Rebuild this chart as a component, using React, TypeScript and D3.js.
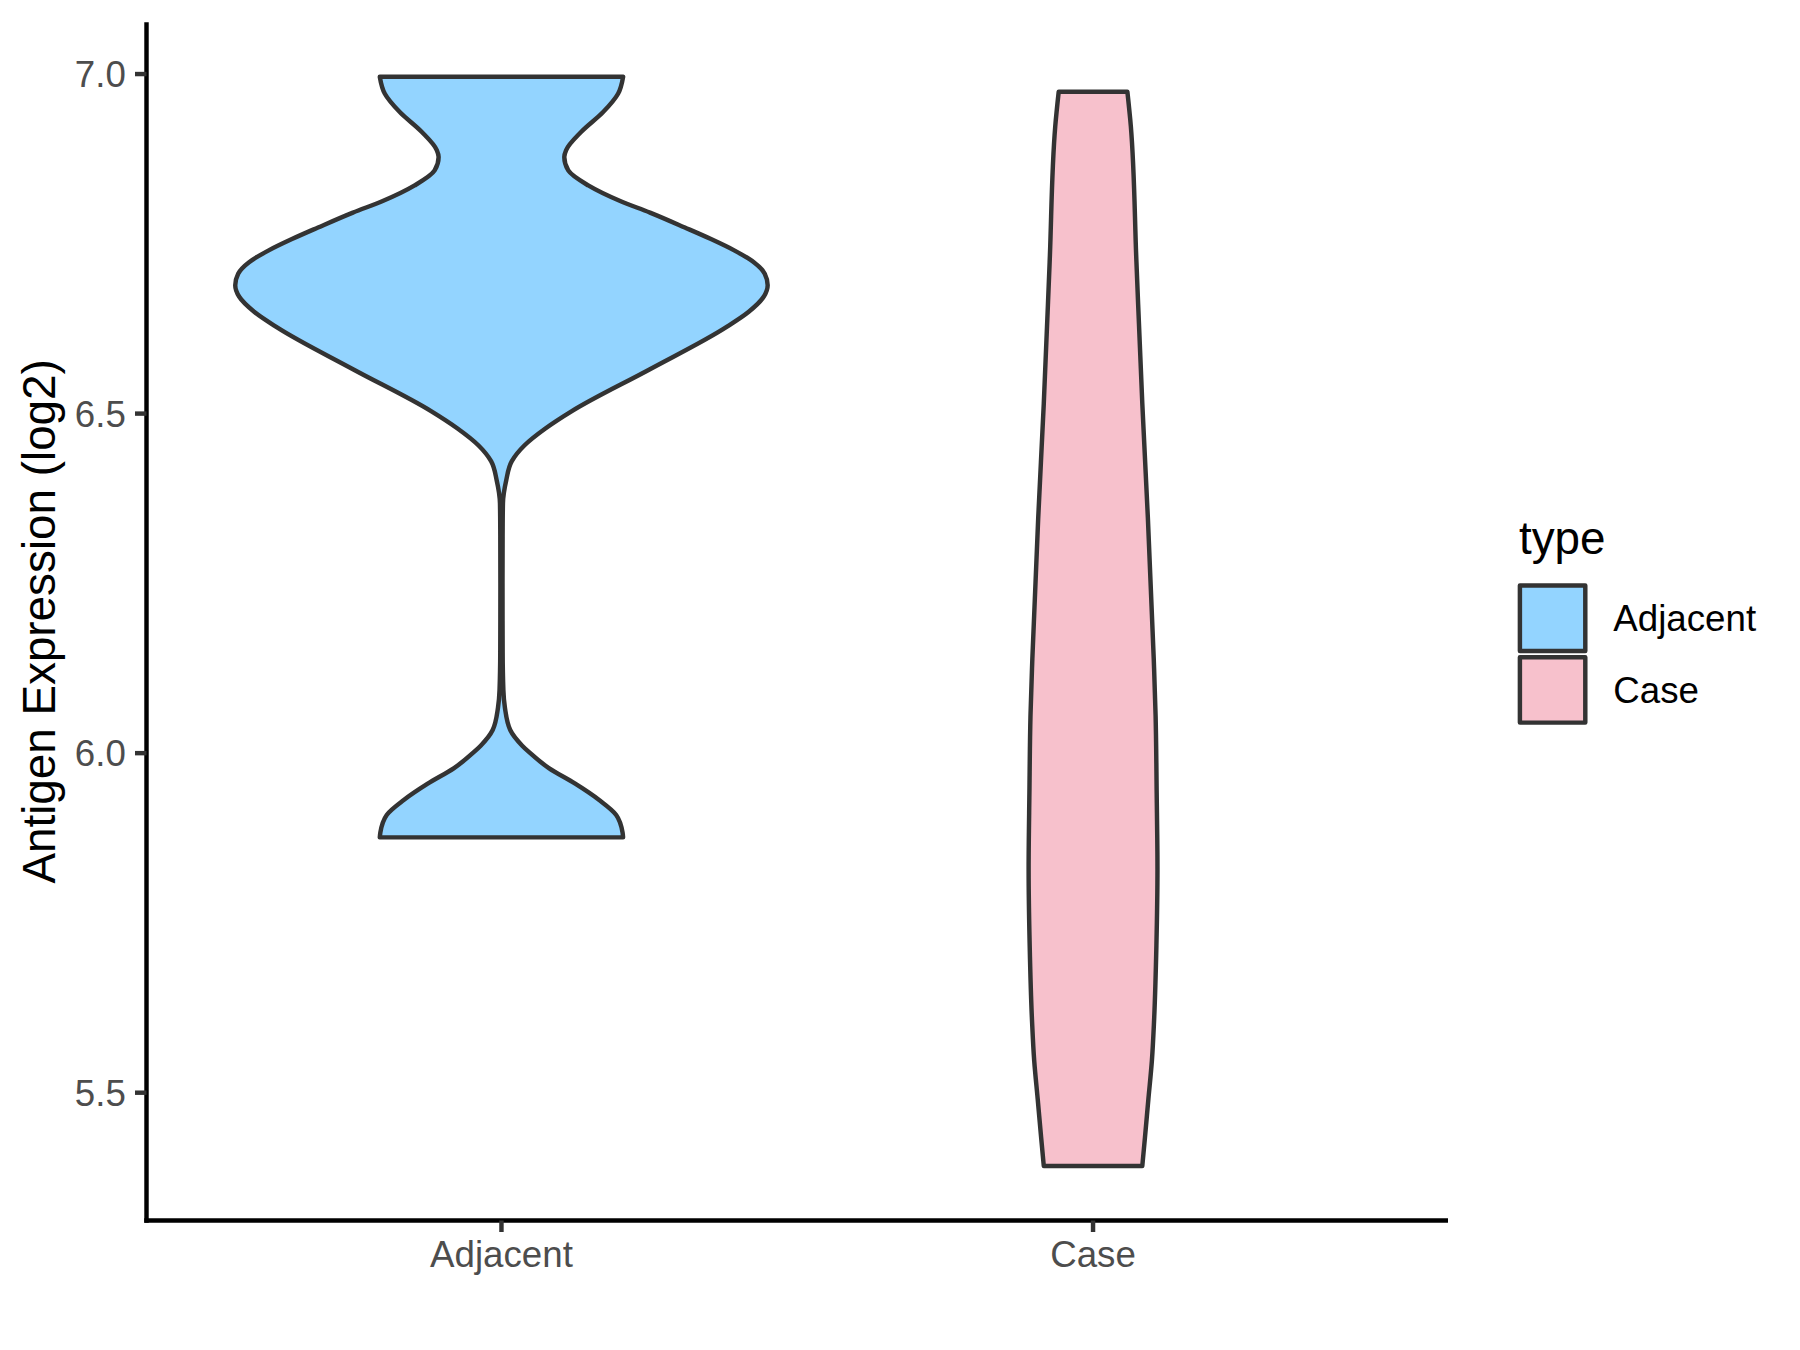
import React from "react";
import * as d3 from "d3";

// ---- data ----
const categories = ["Adjacent", "Case"];
const fills = ["#93D4FF", "#F7C1CC"];

// Adjacent violin profile: expression value (log2) and relative density
const adjacentValues = [
  5.876, 5.883, 5.909, 5.931, 5.955, 5.978, 6.001, 6.011, 6.034, 6.067, 6.093,
  6.15, 6.25, 6.33, 6.368, 6.402, 6.43, 6.453, 6.478, 6.504, 6.565, 6.627,
  6.65, 6.672, 6.689, 6.706, 6.723, 6.74, 6.757, 6.774, 6.796, 6.813, 6.836,
  6.858, 6.878, 6.888, 6.915, 6.944, 6.971, 6.996,
];
const adjacentDensity = [
  0.457, 0.455, 0.431, 0.367, 0.277, 0.178, 0.105, 0.078, 0.033, 0.013, 0.0072,
  0.0045, 0.004, 0.0045, 0.0056, 0.018, 0.039, 0.086, 0.165, 0.266, 0.556,
  0.843, 0.929, 0.985, 1.0, 0.989, 0.948, 0.876, 0.787, 0.689, 0.558, 0.446,
  0.326, 0.251, 0.236, 0.243, 0.3, 0.382, 0.438, 0.457,
];

// Case violin profile
const caseValues = [
  5.392, 5.434, 5.491, 5.547, 5.604, 5.717, 5.829, 5.942, 6.055, 6.139, 6.346,
  6.515, 6.723, 6.923, 6.974,
];
const caseDensity = [
  0.185, 0.195, 0.208, 0.221, 0.229, 0.238, 0.242, 0.239, 0.235, 0.228, 0.206,
  0.185, 0.163, 0.142, 0.129,
];

const yTicks = [5.5, 6.0, 6.5, 7.0];
const yTickLabels = ["5.5", "6.0", "6.5", "7.0"];
const yTitle = "Antigen Expression (log2)";
const legendTitle = "type";

// ---- layout ----
const W = 1800;
const H = 1350;
const panel = { left: 146.5, right: 1448, top: 22.3, bottom: 1220.5 };
const FONT = "'Liberation Sans', Arial, Helvetica, sans-serif";
const LW = 4.45;
const TICK = 11.5;
const small = 36.7;
const big = 45.8;

export default function App() {
  const series = [
    { v: adjacentValues, d: adjacentDensity },
    { v: caseValues, d: caseDensity },
  ];
  const allV = [...adjacentValues, ...caseValues];
  const lo = d3.min(allV) as number;
  const hi = d3.max(allV) as number;
  const pad = (hi - lo) * 0.05;

  const y = d3
    .scaleLinear()
    .domain([lo - pad, hi + pad])
    .range([panel.bottom, panel.top]);
  const x = d3
    .scalePoint<string>()
    .domain(categories)
    .range([panel.left, panel.right])
    .padding(0.6);
  const step = x.step();
  const maxD = d3.max([...adjacentDensity, ...caseDensity]) as number;
  const w = d3.scaleLinear().domain([0, maxD]).range([0, step * 0.45]);

  const violins = series.map((s, i) => {
    const cx = x(categories[i]) as number;
    const pts = s.v.map((v, j) => ({ v, d: s.d[j] }));
    const area = d3
      .area<{ v: number; d: number }>()
      .y((p) => y(p.v))
      .x0((p) => cx - w(p.d))
      .x1((p) => cx + w(p.d))
      .curve(d3.curveMonotoneY);
    return area(pts) as string;
  });

  const legendX = 1519.9;
  const legendKeyY = [585.5, 657.2];
  const keySize = 65.4;

  return (
    <svg
      width={W}
      height={H}
      style={{ position: "absolute", left: 0, top: 0, background: "#fff" }}
      fontFamily={FONT}
    >
      <rect x={0} y={0} width={W} height={H} fill="#fff" />
      {violins.map((p, i) => (
        <path
          key={i}
          d={p}
          fill={fills[i]}
          stroke="#333333"
          strokeWidth={LW}
          strokeLinejoin="round"
        />
      ))}

      {/* axes */}
      <line
        x1={panel.left}
        x2={panel.left}
        y1={panel.top}
        y2={panel.bottom + LW / 2}
        stroke="#000"
        strokeWidth={LW}
      />
      <line
        x1={panel.left - LW / 2}
        x2={panel.right}
        y1={panel.bottom}
        y2={panel.bottom}
        stroke="#000"
        strokeWidth={LW}
      />

      {yTicks.map((t, i) => (
        <g key={t}>
          <line
            x1={panel.left - TICK}
            x2={panel.left}
            y1={y(t)}
            y2={y(t)}
            stroke="#333333"
            strokeWidth={LW}
          />
          <text
            x={panel.left - TICK - 9.2}
            y={y(t)}
            dy="0.36em"
            textAnchor="end"
            fontSize={small}
            fill="#4D4D4D"
          >
            {yTickLabels[i]}
          </text>
        </g>
      ))}

      {categories.map((c) => (
        <g key={c}>
          <line
            x1={x(c)}
            x2={x(c)}
            y1={panel.bottom}
            y2={panel.bottom + TICK}
            stroke="#333333"
            strokeWidth={LW}
          />
          <text
            x={x(c)}
            y={1267}
            textAnchor="middle"
            fontSize={small}
            fill="#4D4D4D"
          >
            {c}
          </text>
        </g>
      ))}

      <text
        transform={`translate(55, ${(panel.top + panel.bottom) / 2}) rotate(-90)`}
        textAnchor="middle"
        fontSize={big}
        fill="#000"
      >
        {yTitle}
      </text>

      {/* legend */}
      <text x={1519} y={554} fontSize={big} fill="#000">
        {legendTitle}
      </text>
      {categories.map((c, i) => (
        <g key={c}>
          <rect
            x={legendX}
            y={legendKeyY[i]}
            width={keySize}
            height={keySize}
            fill={fills[i]}
            stroke="#333333"
            strokeWidth={LW}
            strokeLinejoin="round"
          />
          <text
            x={1613.3}
            y={legendKeyY[i] + 45.3}
            fontSize={small}
            fill="#000"
          >
            {c}
          </text>
        </g>
      ))}
    </svg>
  );
}
